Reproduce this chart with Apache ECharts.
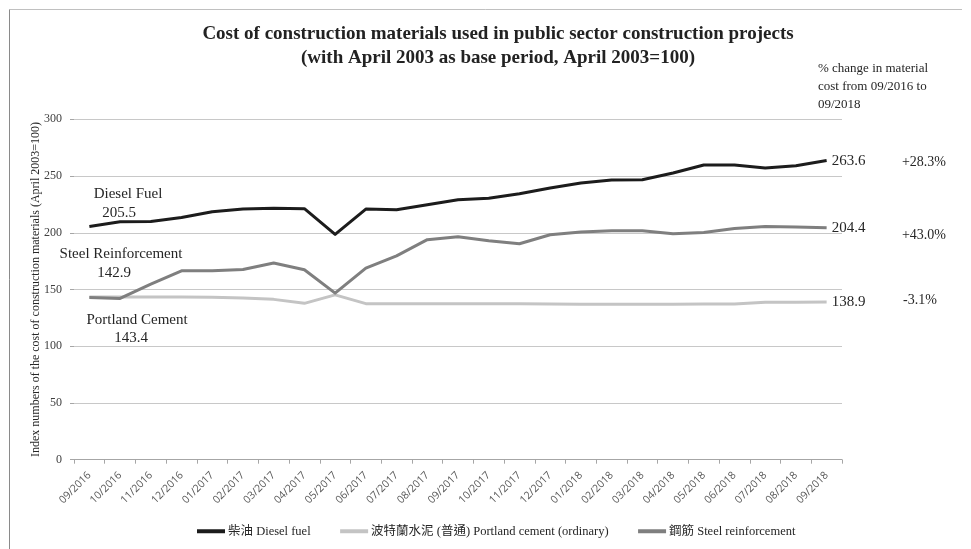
<!DOCTYPE html>
<html>
<head>
<meta charset="utf-8">
<script src="https://cdn.jsdelivr.net/npm/echarts@6/dist/echarts.min.js"></script>
<style>html,body{margin:0;padding:0;background:#fff}#c{width:971px;height:549px}</style>
</head>
<body>
<div id="c"></div>
<script>
var categories = ['09/2016','10/2016','11/2016','12/2016','01/2017','02/2017','03/2017','04/2017','05/2017','06/2017','07/2017','08/2017','09/2017','10/2017','11/2017','12/2017','01/2018','02/2018','03/2018','04/2018','05/2018','06/2018','07/2018','08/2018','09/2018'];
var dieselFuel = [205.5,209.7,210.0,213.5,218.6,220.9,221.5,221.2,198.5,220.9,220.3,224.7,229.1,230.5,234.4,239.5,243.9,246.6,246.8,252.7,259.7,259.7,257.1,259.1,263.6];
var portlandCement = [143.4,143.3,143.4,143.4,143.1,142.6,141.3,137.8,145.3,137.5,137.5,137.5,137.5,137.4,137.4,137.3,137.1,137.1,137.1,137.1,137.2,137.2,138.8,138.8,138.9];
var steelReinforcement = [142.9,142.1,154.8,166.5,166.5,167.7,173.3,167.4,146.8,168.9,179.7,193.9,196.5,193.0,190.3,198.3,200.6,201.8,201.8,199.1,200.3,203.8,205.6,205.0,204.4];
var yTicks = [0,50,100,150,200,250,300];
var seriesNames = ['柴油 Diesel fuel','波特蘭水泥 (普通) Portland cement (ordinary)','鋼筋 Steel reinforcement'];
var pctChange = ['+28.3%','-3.1%','+43.0%'];
var leftNames = ['Diesel Fuel','Portland Cement','Steel Reinforcement'];
var leftValues = ['205.5','143.4','142.9'];

var serif = '"Liberation Serif","Times New Roman","Noto Sans CJK TC",serif';
var chart = echarts.init(document.getElementById('c'));
var colors = ['#1c1c1c','#c4c4c4','#7f7f7f'];
var dataSets = [dieselFuel, portlandCement, steelReinforcement];

var series = dataSets.map(function(d,i){
  return {
    name: seriesNames[i], type:'line', data:d, symbol:'none', smooth:false,
    z: i===0?5:(i===2?4:3),
    lineStyle:{color:colors[i], width:3, join:'round'},
    itemStyle:{color:colors[i]},
    endLabel:{show:true, distance:5, fontFamily:serif, fontSize:15, color:'#262626',
      formatter:function(p){return p.value.toFixed(1);}}
  };
});

var graphics = [
  {type:'line', shape:{x1:9.5,y1:9.5,x2:962,y2:9.5}, style:{stroke:'#c0c0c0',lineWidth:1}},
  {type:'line', shape:{x1:9.5,y1:9.5,x2:9.5,y2:549}, style:{stroke:'#8a8a8a',lineWidth:1}},
  {type:'text', left:818, top:60, style:{text:'% change in material\ncost from 09/2016 to\n09/2018', font:'13px '+serif, fill:'#262626', lineHeight:18}},
  {type:'text', x:924, y:162, style:{text:pctChange[0], font:'14px '+serif, fill:'#262626', align:'center', verticalAlign:'middle'}},
  {type:'text', x:924, y:235, style:{text:pctChange[2], font:'14px '+serif, fill:'#262626', align:'center', verticalAlign:'middle'}},
  {type:'text', x:920, y:300, style:{text:pctChange[1], font:'14px '+serif, fill:'#262626', align:'center', verticalAlign:'middle'}},
  {type:'text', x:128, y:194, style:{text:leftNames[0], font:'15px '+serif, fill:'#262626', align:'center', verticalAlign:'middle'}},
  {type:'text', x:119, y:213, style:{text:leftValues[0], font:'15px '+serif, fill:'#262626', align:'center', verticalAlign:'middle'}},
  {type:'text', x:121, y:254, style:{text:leftNames[2], font:'15px '+serif, fill:'#262626', align:'center', verticalAlign:'middle'}},
  {type:'text', x:114, y:273, style:{text:leftValues[2], font:'15px '+serif, fill:'#262626', align:'center', verticalAlign:'middle'}},
  {type:'text', x:137, y:320, style:{text:leftNames[1], font:'15px '+serif, fill:'#262626', align:'center', verticalAlign:'middle'}},
  {type:'text', x:131, y:338, style:{text:leftValues[1], font:'15px '+serif, fill:'#262626', align:'center', verticalAlign:'middle'}}
];

chart.setOption({
  animation:false,
  backgroundColor:'#fff',
  title:{
    text:'Cost of construction materials used in public sector construction projects\n(with April 2003 as base period, April 2003=100)',
    left:493, textAlign:'center', top:17,
    textStyle:{fontFamily:serif, fontSize:19, fontWeight:'bold', color:'#222', lineHeight:24}
  },
  grid:{left:74, right:129, top:119.3, bottom:89.3, containLabel:false},
  legend:{
    data:seriesNames, top:520, left:192, itemWidth:28, itemHeight:4, itemGap:29.5, icon:'rect',
    textStyle:{fontFamily:serif, fontSize:12.5, color:'#262626', padding:[0,0,0,-2]}
  },
  xAxis:{
    type:'category', data:categories, boundaryGap:true,
    axisLine:{lineStyle:{color:'#a6a6a6'}},
    axisTick:{show:true, length:4, lineStyle:{color:'#a6a6a6'}},
    axisLabel:{rotate:45, interval:0, margin:14, fontFamily:'"Open Sans","Liberation Sans",sans-serif', fontSize:10.5, color:'#595959'}
  },
  yAxis:{
    type:'value', min:yTicks[0], max:yTicks[yTicks.length-1], interval:50,
    name:'Index numbers of the cost of construction materials (April 2003=100)',
    nameLocation:'middle', nameGap:32, nameRotate:90, nameMoveOverlap:false,
    nameTextStyle:{fontFamily:serif, fontSize:12, color:'#262626'},
    axisLine:{show:false},
    axisTick:{show:true, length:4, lineStyle:{color:'#a6a6a6'}},
    axisLabel:{margin:12, fontFamily:serif, fontSize:12, color:'#404040'},
    splitLine:{lineStyle:{color:'#c8c8c8', width:1}}
  },
  series:series,
  graphic:graphics
});
</script>
</body>
</html>
